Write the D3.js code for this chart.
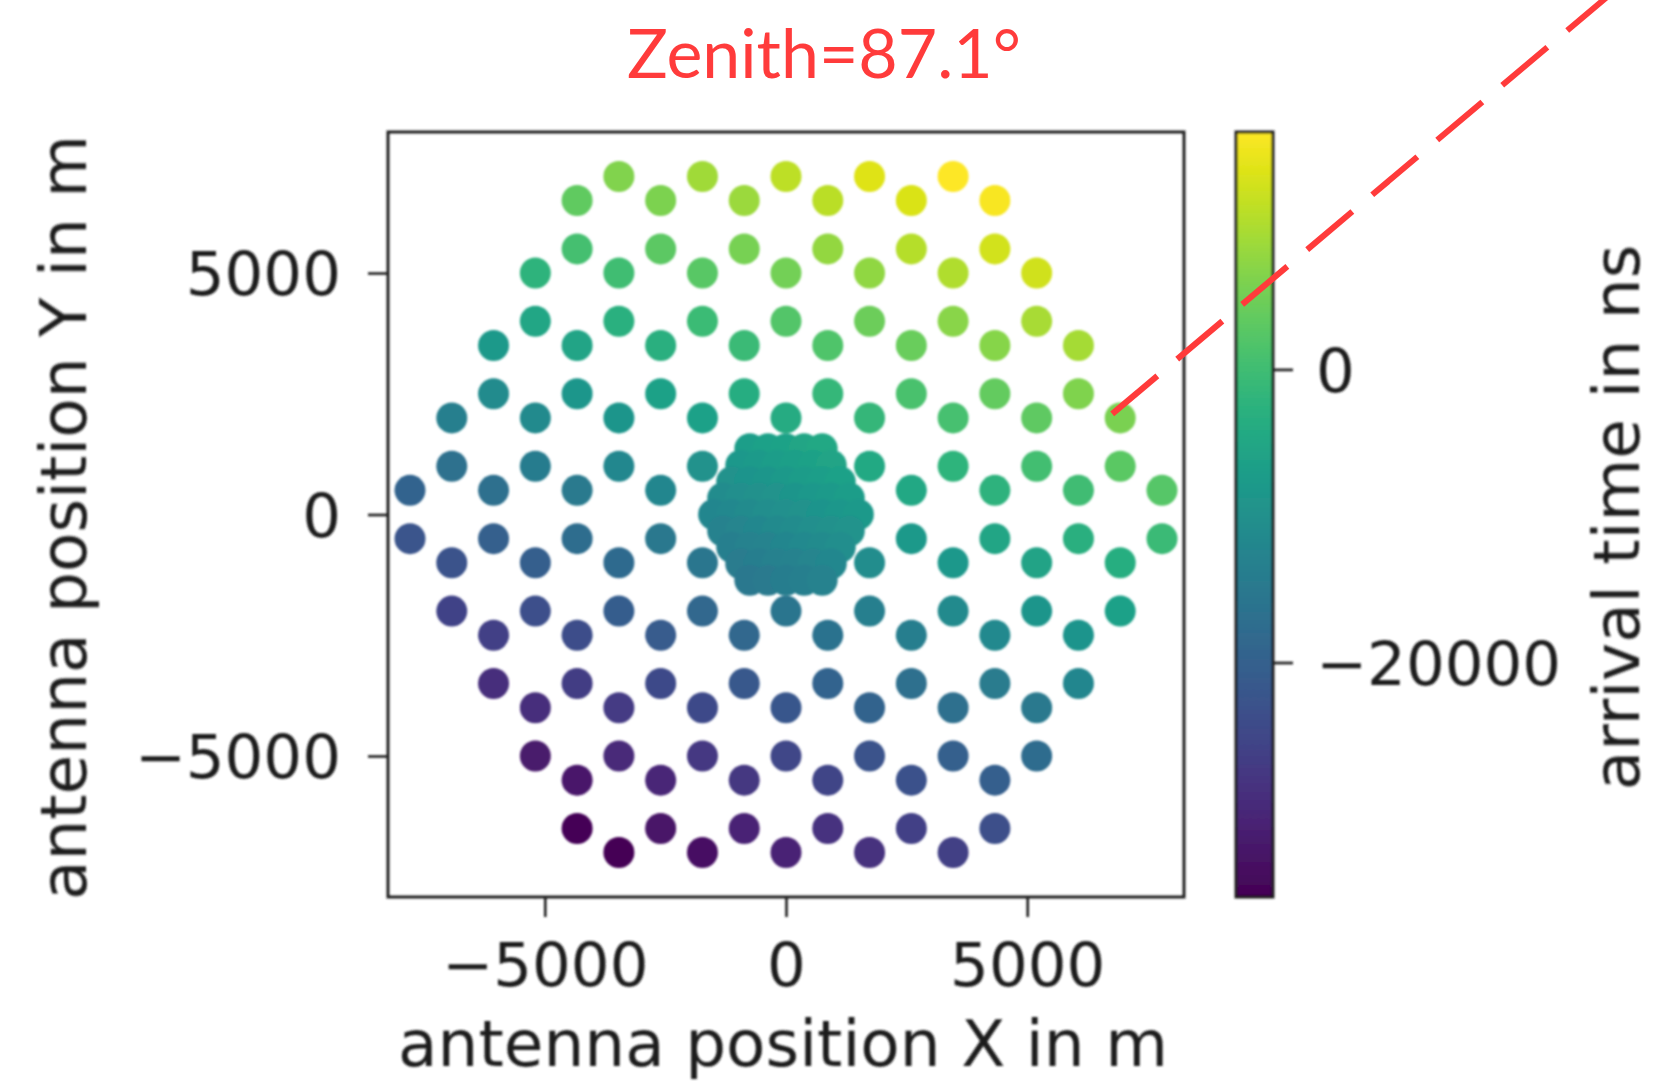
<!DOCTYPE html>
<html>
<head>
<meta charset="utf-8">
<script src="https://cdn.jsdelivr.net/npm/d3@7"></script>
<style>
  html, body { margin: 0; padding: 0; background: #fff; }
  svg { display: block; }
</style>
</head>
<body>
<script>
// ---- Antenna layout (m) and arrival times (ns) ----
// Main array: one row of antennas per Y position.
const rowY = [7000, 6500, 5500, 5000, 4000, 3500, 2500, 2000, 1000, 500,
              -500, -1000, -2000, -2500, -3500, -4000, -5000, -5500, -6500, -7000];

const rowX = [
  [-3464, -1732, 0, 1732, 3464],
  [-4330, -2598, -866, 866, 2598, 4330],
  [-4330, -2598, -866, 866, 2598, 4330],
  [-5196, -3464, -1732, 0, 1732, 3464, 5196],
  [-5196, -3464, -1732, 0, 1732, 3464, 5196],
  [-6062, -4330, -2598, -866, 866, 2598, 4330, 6062],
  [-6062, -4330, -2598, -866, 866, 2598, 4330, 6062],
  [-6928, -5196, -3464, -1732, 0, 1732, 3464, 5196, 6928],
  [-6928, -5196, -3464, -1732, 0, 1732, 3464, 5196, 6928],
  [-7794, -6062, -4330, -2598, -866, 866, 2598, 4330, 6062, 7794],
  [-7794, -6062, -4330, -2598, -866, 866, 2598, 4330, 6062, 7794],
  [-6928, -5196, -3464, -1732, 0, 1732, 3464, 5196, 6928],
  [-6928, -5196, -3464, -1732, 0, 1732, 3464, 5196, 6928],
  [-6062, -4330, -2598, -866, 866, 2598, 4330, 6062],
  [-6062, -4330, -2598, -866, 866, 2598, 4330, 6062],
  [-5196, -3464, -1732, 0, 1732, 3464, 5196],
  [-5196, -3464, -1732, 0, 1732, 3464, 5196],
  [-4330, -2598, -866, 866, 2598, 4330],
  [-4330, -2598, -866, 866, 2598, 4330],
  [-3464, -1732, 0, 1732, 3464]
];

const rowTime = [
  [6300, 8700, 11100, 13600, 16200],
  [3500, 6000, 8400, 10800, 13300, 15700],
  [500, 3000, 5400, 7800, 10300, 12700],
  [-2200, 200, 2700, 5100, 7500, 10000, 12400],
  [-5200, -2800, -400, 2100, 4500, 6900, 9400],
  [-7900, -5500, -3100, -600, 1800, 4200, 6700, 9100],
  [-11000, -8500, -6100, -3700, -1200, 1200, 3600, 6100],
  [-13700, -11300, -8800, -6400, -4000, -1500, 900, 3300, 5800],
  [-16700, -14300, -11800, -9400, -7000, -4500, -2100, 300, 2800],
  [-19400, -17000, -14600, -12100, -9700, -7300, -4800, -2400, 0, 2500],
  [-22500, -20000, -17600, -15200, -12700, -10300, -7900, -5400, -3000, -600],
  [-22800, -20300, -17900, -15500, -13000, -10600, -8200, -5700, -3300],
  [-25800, -23300, -20900, -18500, -16000, -13600, -11200, -8700, -6300],
  [-26100, -23600, -21200, -18800, -16300, -13900, -11500, -9000],
  [-29100, -26700, -24200, -21800, -19400, -16900, -14500, -12100],
  [-29400, -26900, -24500, -22100, -19600, -17200, -14800],
  [-32400, -30000, -27500, -25100, -22700, -20200, -17800],
  [-32700, -30300, -27800, -25400, -23000, -20500],
  [-35700, -33300, -30800, -28400, -26000, -23500],
  [-36000, -33600, -31100, -28700, -26300]
];

// Dense infill around the array centre.
const infillY = [1360, 1020, 680, 340, 0, -340, -680, -1020, -1360];
const infillX = [
  [-750, -375, 0, 375, 750],
  [-938, -562, -188, 188, 562, 938],
  [-1125, -750, -375, 0, 375, 750, 1125],
  [-1312, -938, -562, -188, 188, 562, 938, 1312],
  [-1500, -1125, -750, -375, 0, 375, 750, 1125, 1500],
  [-1312, -938, -562, -188, 188, 562, 938, 1312],
  [-1125, -750, -375, 0, 375, 750, 1125],
  [-938, -562, -188, 188, 562, 938],
  [-750, -375, 0, 375, 750]
];
const infillTime = [
  [-6900, -6400, -5900, -5400, -4800],
  [-8200, -7700, -7200, -6700, -6100, -5600],
  [-9500, -9000, -8500, -7900, -7400, -6900, -6400],
  [-10800, -10300, -9800, -9200, -8700, -8200, -7700, -7100],
  [-12100, -11600, -11100, -10500, -10000, -9500, -8900, -8400, -7900],
  [-12900, -12300, -11800, -11300, -10800, -10200, -9700, -9200],
  [-13600, -13100, -12600, -12100, -11500, -11000, -10500],
  [-14400, -13900, -13300, -12800, -12300, -11800],
  [-15200, -14600, -14100, -13600, -13100]
];

const xTicks = [-5000, 0, 5000];
const yTicks = [-5000, 0, 5000];
const cbTicks = [-20000, 0];

const titleText = "Zenith=87.1°";
const xLabel = "antenna position X in m";
const yLabel = "antenna position Y in m";
const cbLabel = "arrival time in ns";

// Highlighted antenna and where its pointer leaves the figure (m).
const pointerFrom = [6928, 2000];
const pointerTo = [17000, 10700];

// ---- Flatten rows into antenna records ----
const antennas = [];
rowY.forEach((yy, i) => rowX[i].forEach((xx, j) => antennas.push({x: xx, y: yy, t: rowTime[i][j]})));
infillY.forEach((yy, i) => infillX[i].forEach((xx, j) => antennas.push({x: xx, y: yy, t: infillTime[i][j]})));

// ---- Layout ----
const W = 1654, H = 1082;
const P = {left: 388, right: 1184, top: 132, bottom: 897};
const CB = {left: 1236, right: 1273};
const tickFont = 61, labelFont = 64.5;
const ink = "#1e1e1e";

const x = d3.scaleLinear().domain([-8250, 8250]).range([P.left, P.right]);
const y = d3.scaleLinear().domain([-7920, 7920]).range([P.bottom, P.top]);
const tExtent = d3.extent(antennas, d => d.t);
const color = d3.scaleSequential(d3.interpolateViridis).domain(tExtent);
const cbScale = d3.scaleLinear().domain(tExtent).range([P.bottom, P.top]);
const fmt = d3.format("d");

const svg = d3.select("body").append("svg")
  .attr("width", W).attr("height", H)
  .attr("font-family", "'DejaVu Sans', sans-serif");

const defs = svg.append("defs");
defs.append("filter").attr("id", "soft")
  .attr("x", "-5%").attr("y", "-5%").attr("width", "110%").attr("height", "110%")
  .append("feGaussianBlur").attr("stdDeviation", 1.2);

const grad = defs.append("linearGradient").attr("id", "viridis")
  .attr("x1", 0).attr("y1", 1).attr("x2", 0).attr("y2", 0);
d3.range(0, 1.0001, 0.05).forEach(s =>
  grad.append("stop").attr("offset", s).attr("stop-color", d3.interpolateViridis(s)));

svg.append("rect").attr("width", W).attr("height", H).attr("fill", "#fff");

const chart = svg.append("g").attr("filter", "url(#soft)");

// Antenna markers
chart.append("g").selectAll("circle").data(antennas).join("circle")
  .attr("cx", d => x(d.x)).attr("cy", d => y(d.y)).attr("r", 15.5)
  .attr("fill", d => color(d.t));

// Frame
chart.append("rect")
  .attr("x", P.left).attr("y", P.top)
  .attr("width", P.right - P.left).attr("height", P.bottom - P.top)
  .attr("fill", "none").attr("stroke", ink).attr("stroke-width", 3);

// Axes
function styleAxis(g) {
  g.select(".domain").remove();
  g.selectAll(".tick line").attr("stroke", ink).attr("stroke-width", 2.6);
  g.selectAll(".tick text").attr("fill", ink).attr("font-size", tickFont)
    .attr("font-family", "'DejaVu Sans', sans-serif");
}

chart.append("g").attr("transform", `translate(0,${P.bottom})`)
  .call(d3.axisBottom(x).tickValues(xTicks).tickSize(20).tickPadding(26).tickFormat(fmt))
  .call(styleAxis);

const yAxis = chart.append("g").attr("transform", `translate(${P.left},0)`)
  .call(d3.axisLeft(y).tickValues(yTicks).tickSize(20).tickPadding(27).tickFormat(fmt))
  .call(styleAxis);
yAxis.selectAll(".tick text").attr("dy", "0.36em");

// Axis titles
chart.append("text")
  .attr("x", (P.left + P.right) / 2 - 3).attr("y", 1066)
  .attr("text-anchor", "middle").attr("font-size", labelFont).attr("fill", ink)
  .text(xLabel);

chart.append("text")
  .attr("transform", `translate(86,${(P.top + P.bottom) / 2 + 3}) rotate(-90)`)
  .attr("text-anchor", "middle").attr("font-size", labelFont).attr("fill", ink)
  .text(yLabel);

// Colour bar
chart.append("rect")
  .attr("x", CB.left).attr("y", P.top)
  .attr("width", CB.right - CB.left).attr("height", P.bottom - P.top)
  .attr("fill", "url(#viridis)").attr("stroke", ink).attr("stroke-width", 3);

const cbAxis = chart.append("g").attr("transform", `translate(${CB.right},0)`)
  .call(d3.axisRight(cbScale).tickValues(cbTicks).tickSize(20).tickPadding(23).tickFormat(fmt))
  .call(styleAxis);
cbAxis.selectAll(".tick text").attr("dy", "0.36em");

chart.append("text")
  .attr("transform", `translate(1639,${(P.top + P.bottom) / 2 + 3}) rotate(-90)`)
  .attr("text-anchor", "middle").attr("font-size", labelFont).attr("fill", ink)
  .text(cbLabel);

// Title
svg.append("text")
  .attr("x", 824).attr("y", 78)
  .attr("text-anchor", "middle")
  .attr("font-family", "Lato, sans-serif").attr("font-size", 68)
  .attr("fill", "#ff3b3b")
  .text(titleText);

// Pointer from the highlighted antenna
svg.append("line")
  .attr("x1", x(pointerFrom[0]) - 8).attr("y1", y(pointerFrom[1]) - 4)
  .attr("x2", x(pointerTo[0])).attr("y2", y(pointerTo[1]))
  .attr("stroke", "#ff3b3b").attr("stroke-width", 6)
  .attr("stroke-dasharray", "59,26");
</script>
</body>
</html>
